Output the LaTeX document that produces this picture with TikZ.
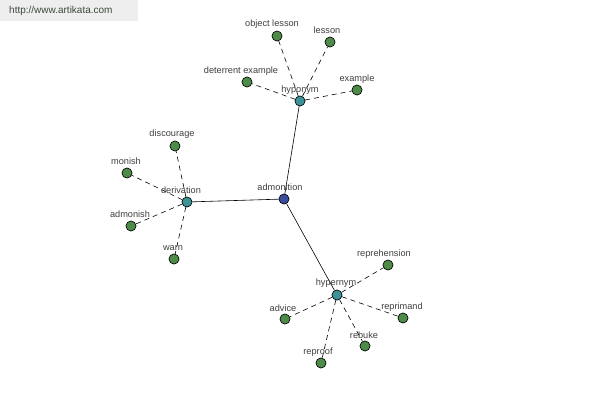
\documentclass[tikz,border=0pt]{standalone}
\usepackage{fontspec}
\setmainfont{Liberation Sans}
\begin{document}
\begin{tikzpicture}[x=1pt,y=-1pt,
  dot/.style={circle,draw=black,line width=0.5pt,minimum size=10pt,inner sep=0pt},
  leaf/.style={dot,fill=leafgreen},
  hub/.style={dot,fill=hubteal},
  root/.style={dot,fill=rootblue},
  lbl/.style={font=\fontsize{9.2}{10}\selectfont,text=labelgray,inner sep=0pt},
  solidedge/.style={draw=black,line width=0.6pt},
  dashedge/.style={draw=black,line width=0.6pt,dash pattern=on 5pt off 4pt}]
\definecolor{leafgreen}{HTML}{4E8A48}
\definecolor{hubteal}{HTML}{3C9396}
\definecolor{rootblue}{HTML}{3B4C9C}
\definecolor{labelgray}{HTML}{404040}
\definecolor{headgray}{HTML}{EEEEEE}
\definecolor{headtext}{HTML}{3A4A3A}
\useasboundingbox[fill=white] (0,0) rectangle (600,400);
\fill[headgray] (0,0) rectangle (138,21);
\node[font=\fontsize{10}{11}\selectfont,text=headtext,anchor=west,inner sep=0pt] (url) at (9,11) {http://www.artikata.com};
% hub and root nodes
\node[root] (adm) at (284,199) {};
\node[hub] (hypo) at (300,101) {};
\node[hub] (deri) at (187,202) {};
\node[hub] (hyper) at (337,295) {};
% leaves
\node[leaf] (obj) at (277,36) {};
\node[leaf] (les) at (330,42) {};
\node[leaf] (det) at (247,82) {};
\node[leaf] (exa) at (357,90) {};
\node[leaf] (dis) at (175,146) {};
\node[leaf] (mon) at (127,173) {};
\node[leaf] (admn) at (131,226) {};
\node[leaf] (warn) at (174,259) {};
\node[leaf] (repr) at (388,265) {};
\node[leaf] (repm) at (403,318) {};
\node[leaf] (reb) at (365,346) {};
\node[leaf] (reprf) at (321,363) {};
\node[leaf] (adv) at (285,319) {};
% edges
\path[solidedge] (adm) -- (hypo);
\path[solidedge] (adm) -- (deri);
\path[solidedge] (adm) -- (hyper);
\foreach \l in {obj,les,det,exa}{\path[dashedge] (hypo) -- (\l);}
\foreach \l in {dis,mon,admn,warn}{\path[dashedge] (deri) -- (\l);}
\foreach \l in {repr,repm,reb,reprf,adv}{\path[dashedge] (hyper) -- (\l);}
% labels
\node[lbl] (ladm) at (280,187) {admonition};
\node[lbl] (lhypo) at (300,90) {hyponym};
\node[lbl] (lderi) at (181,190) {derivation};
\node[lbl] (lhyper) at (336,283) {hypernym};
\node[lbl] (lobj) at (272,24) {object lesson};
\node[lbl] (lles) at (327,30) {lesson};
\node[lbl] (ldet) at (241,71) {deterrent example};
\node[lbl] (lexa) at (357,79) {example};
\node[lbl] (ldis) at (172,134) {discourage};
\node[lbl] (lmon) at (126,161) {monish};
\node[lbl] (ladmn) at (130,214) {admonish};
\node[lbl] (lwarn) at (173,248) {warn};
\node[lbl] (lrepr) at (384,254) {reprehension};
\node[lbl] (lrepm) at (402,307) {reprimand};
\node[lbl] (lreb) at (364,335) {rebuke};
\node[lbl] (lreprf) at (318,352) {reproof};
\node[lbl] (ladv) at (283,308) {advice};
% redraw dots on top of edges
\node[root] at (adm) {};
\node[hub] at (hypo) {};
\node[hub] at (deri) {};
\node[hub] at (hyper) {};
\foreach \l in {obj,les,det,exa,dis,mon,admn,warn,repr,repm,reb,reprf,adv}{\node[leaf] at (\l) {};}
\end{tikzpicture}
\end{document}
